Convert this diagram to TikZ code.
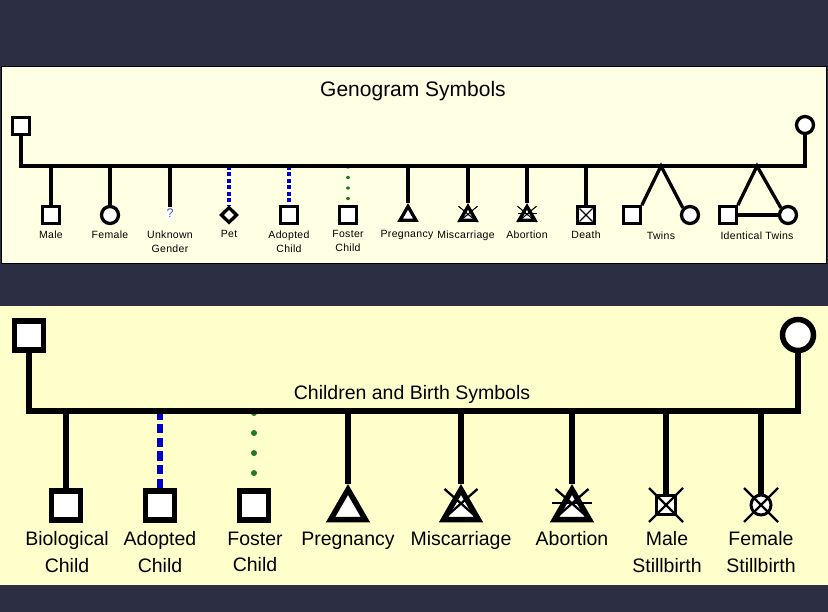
\documentclass[tikz,border=0pt]{standalone}
\usepackage{fontspec}
\setmainfont{Liberation Sans}
\usetikzlibrary{shapes.geometric}
\definecolor{bg}{HTML}{2C2E43}
\definecolor{panelA}{HTML}{FFFFE3}
\definecolor{panelB}{HTML}{FFFFCC}
\definecolor{adoptblue}{HTML}{0000CC}
\definecolor{fostergreen}{HTML}{1E7B1E}
\definecolor{qcol}{HTML}{4A5A8A}
\begin{document}
\begin{tikzpicture}[x=1pt,y=-1pt,line join=miter,
  tsq/.style={draw,fill=white,rectangle,line width=3.3pt,minimum size=16.5pt,inner sep=0pt},
  tcirc/.style={draw,fill=white,circle,line width=3.3pt,minimum size=17pt,inner sep=0pt},
  ttri/.style={draw,fill=white,regular polygon,regular polygon sides=3,line width=3.3pt,minimum size=18.5pt,inner sep=0pt},
  tdia/.style={draw,fill=white,diamond,aspect=1,line width=3.3pt,minimum width=16.5pt,minimum height=16pt,inner sep=0pt},
  unk/.style={fill=white,text=qcol,inner sep=1.5pt,font=\fontsize{12.5}{12.5}\selectfont},
  tline/.style={line width=3.3pt},
  tblue/.style={draw=adoptblue,dash pattern=on 4pt off 2.5pt},
  tgreen/.style={draw=fostergreen,line width=3.3pt,line cap=round,dash pattern=on 0.01pt off 10.5pt,dash phase=9.5pt},
  tx/.style={line width=1.1pt},
  bsq/.style={draw,fill=white,rectangle,line width=5.5pt,minimum size=29pt,inner sep=0pt},
  bcirc/.style={draw,fill=white,circle,line width=5.5pt,minimum size=31pt,inner sep=0pt},
  btri/.style={draw,fill=white,regular polygon,regular polygon sides=3,line width=5.5pt,minimum size=40pt,inner sep=0pt},
  bsqs/.style={draw,fill=white,rectangle,line width=3pt,minimum size=19pt,inner sep=0pt},
  bcircs/.style={draw,fill=white,circle,line width=3pt,minimum size=20pt,inner sep=0pt},
  bline/.style={line width=6pt},
  bblue/.style={draw=adoptblue,dash pattern=on 9pt off 4.5pt},
  bgreen/.style={draw=fostergreen,line cap=round,dash pattern=on 0.01pt off 20pt,dash phase=18pt},
  bx/.style={line width=2.3pt},
  tlab/.style={font=\fontsize{10.5}{14}\selectfont\addfontfeature{LetterSpace=3},align=center,anchor=north,inner sep=0pt},
  blab/.style={font=\fontsize{19.5}{26.5}\selectfont,align=center,anchor=north,inner sep=0pt}
]
\useasboundingbox (0,0) rectangle (828,612);
\fill[bg] (0,0) rectangle (828,612);
\draw[fill=panelA,draw=black,line width=1pt] (1,67) rectangle (826,264);
\fill[panelB] (0,306) rectangle (828,585);

% ---------- top panel ----------
\node[font=\fontsize{21}{21}\selectfont,anchor=base] (ttitle) at (413,97) {Genogram Symbols};
\node[tsq] (tf) at (21,126) {};
\node[tcirc] (tm) at (805,125) {};
\coordinate (tbl) at (21,166);
\coordinate (tbr) at (805,166);

\node[tsq] (tmale) at (51,215) {};
\node[tcirc] (tfem) at (110,215) {};
\node[unk] (tunk) at (170,213.5) {?};
\node[tdia] (tpet) at (229,215) {};
\node[tsq] (tadopt) at (289,215) {};
\node[tsq] (tfost) at (348,215) {};
\node[ttri] (tpreg) at (408,215.7) {};
\node[ttri] (tmisc) at (468,215.7) {};
\node[ttri] (tabort) at (527,215.7) {};
\node[tsq] (tdeath) at (586,215) {};
\coordinate (ttw) at (661,166);
\node[tsq] (ttwm) at (632,215) {};
\node[tcirc] (ttwf) at (690,215) {};
\coordinate (tid) at (757,166);
\node[tsq] (tidm) at (728,215) {};
\node[tcirc] (tidf) at (788,215) {};

\foreach \n in {tmale,tfem,tunk,tpreg,tmisc,tabort,tdeath}
  \draw[tline] (\n.north |- tbl) -- (\n.north);
\draw[tline,tblue] (tpet.north |- tbl) -- (tpet.north);
\draw[tline,tblue] (tadopt.north |- tbl) -- (tadopt.north);
\draw[tgreen] (tfost.north |- tbl) -- (tfost.north);
\draw[tline] (ttwm.north east) -- (ttw) -- (ttwf.north west);
\draw[tline] (tidm.north east) -- (tid) -- (tidf.north west);
\draw[tline] (tidm.east) -- (tidf.west);
\draw[tline] (tf.south) -- (tbl) -- (tbr) -- (tm.south);

\draw[tx] ([shift={(-9.5,-9.5)}]tmisc.center) -- ([shift={(9.5,6.5)}]tmisc.center);
\draw[tx] ([shift={(9.5,-9.5)}]tmisc.center) -- ([shift={(-9.5,6.5)}]tmisc.center);
\draw[tx] ([shift={(-9.5,-9.5)}]tabort.center) -- ([shift={(9.5,6.5)}]tabort.center);
\draw[tx] ([shift={(9.5,-9.5)}]tabort.center) -- ([shift={(-9.5,6.5)}]tabort.center);
\draw[tx] ([shift={(-9.5,-2.5)}]tabort.center) -- ([shift={(9.5,-2.5)}]tabort.center);
\draw[tx] ([shift={(-6.5,-6.5)}]tdeath.center) -- ([shift={(6.5,6.5)}]tdeath.center);
\draw[tx] ([shift={(6.5,-6.5)}]tdeath.center) -- ([shift={(-6.5,6.5)}]tdeath.center);

\node[tlab] (lmale) at (51,230.5) {Male};
\node[tlab] (lfem) at (110,230.5) {Female};
\node[tlab] (lunk) at (170,230.5) {Unknown\\Gender};
\node[tlab] (lpet) at (229,230.5) {Pet};
\node[tlab] (ladopt) at (289,230.5) {Adopted\\Child};
\node[tlab] (lfost) at (348,230.5) {Foster\\Child};
\node[tlab] (lpreg) at (407,230.5) {Pregnancy};
\node[tlab] (lmisc) at (466,230.5) {Miscarriage};
\node[tlab] (labort) at (527,230.5) {Abortion};
\node[tlab] (ldeath) at (586,230.5) {Death};
\node[tlab] (ltw) at (661,231.5) {Twins};
\node[tlab] (lid) at (757,231.5) {Identical Twins};

% ---------- bottom panel ----------
\node[font=\fontsize{19.5}{19.5}\selectfont,anchor=base] (btitle) at (412,400) {Children and Birth Symbols};
\node[bsq] (bf) at (29,335.5) {};
\node[bcirc] (bm) at (798,335) {};
\coordinate (bbl) at (29,411);
\coordinate (bbr) at (798,411);

\node[bsq] (bbio) at (66,505.5) {};
\node[bsq] (badopt) at (160,505.5) {};
\node[bsq] (bfost) at (254,505.5) {};
\node[btri] (bpreg) at (348,509.5) {};
\node[btri] (bmisc) at (461,509.5) {};
\node[btri] (babort) at (572,509.5) {};
\node[bsqs] (bmsb) at (666,505) {};
\node[bcircs] (bfsb) at (761,505) {};

\foreach \n in {bbio,bpreg,bmisc,babort,bmsb,bfsb}
  \draw[bline] (\n.north |- bbl) -- (\n.north);
\draw[bline,bblue] (badopt.north |- bbl) -- (badopt.north);
\draw[bline,bgreen] (bfost.north |- bbl) -- (bfost.north);
\draw[bline] (bf.south) -- (bbl) -- (bbr) -- (bm.south);

\draw[bx] ([shift={(-16.5,-20.5)}]bmisc.center) -- ([shift={(16.5,8.5)}]bmisc.center);
\draw[bx] ([shift={(16.5,-20.5)}]bmisc.center) -- ([shift={(-16.5,8.5)}]bmisc.center);
\draw[bx] ([shift={(-16.5,-20.5)}]babort.center) -- ([shift={(16.5,8.5)}]babort.center);
\draw[bx] ([shift={(16.5,-20.5)}]babort.center) -- ([shift={(-16.5,8.5)}]babort.center);
\draw[bx] ([shift={(-20,-6.5)}]babort.center) -- ([shift={(20,-6.5)}]babort.center);
\draw[bx] ([shift={(-17,-17)}]bmsb.center) -- ([shift={(17,17)}]bmsb.center);
\draw[bx] ([shift={(17,-17)}]bmsb.center) -- ([shift={(-17,17)}]bmsb.center);
\draw[bx] ([shift={(-17,-17)}]bfsb.center) -- ([shift={(17,17)}]bfsb.center);
\draw[bx] ([shift={(17,-17)}]bfsb.center) -- ([shift={(-17,17)}]bfsb.center);

\node[blab] (lbio) at (67,531.5) {Biological\\Child};
\node[blab] (lbadopt) at (160,531.5) {Adopted\\Child};
\node[blab] (lbfost) at (255,531.5) {Foster\\Child};
\node[blab] (lbpreg) at (348,531.5) {Pregnancy};
\node[blab] (lbmisc) at (461,531.5) {Miscarriage};
\node[blab] (lbabort) at (572,531.5) {Abortion};
\node[blab] (lbmsb) at (667,531.5) {Male\\Stillbirth};
\node[blab] (lbfsb) at (761,531.5) {Female\\Stillbirth};
\end{tikzpicture}
\end{document}
